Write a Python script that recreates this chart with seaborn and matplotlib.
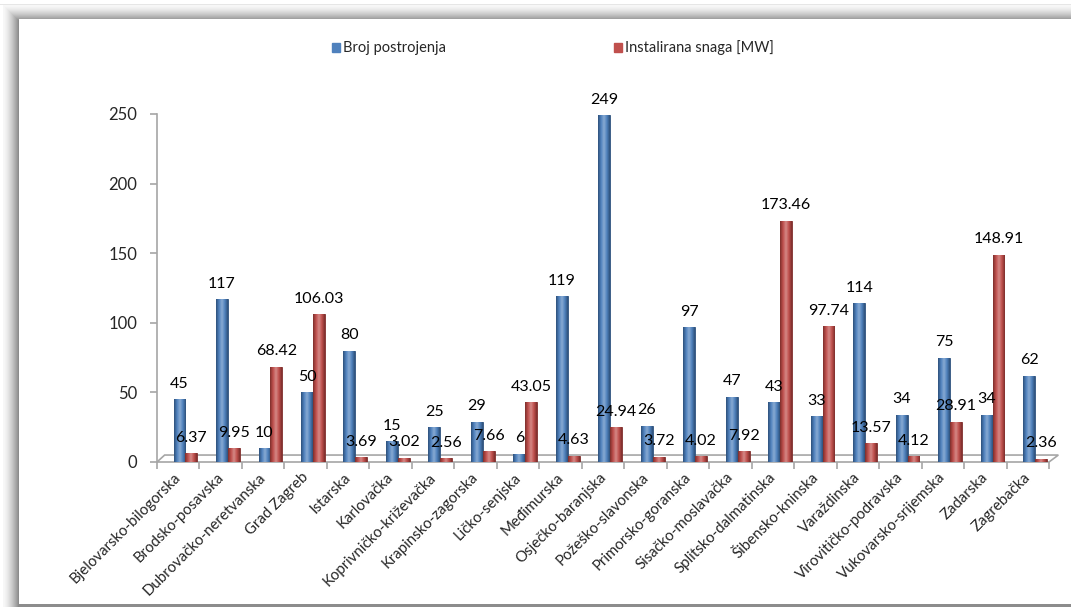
import numpy as np
import pandas as pd
import matplotlib
matplotlib.use("Agg")
import matplotlib.pyplot as plt
from matplotlib.patches import Rectangle, Polygon
from matplotlib.colors import LinearSegmentedColormap
import seaborn as sns

# data
zupanije = ["Bjelovarsko-bilogorska", "Brodsko-posavska", "Dubrovačko-neretvanska",
            "Grad Zagreb", "Istarska", "Karlovačka", "Koprivničko-križevačka",
            "Krapinsko-zagorska", "Ličko-senjska", "Međimurska", "Osječko-baranjska",
            "Požeško-slavonska", "Primorsko-goranska", "Sisačko-moslavačka",
            "Splitsko-dalmatinska", "Šibensko-kninska", "Varaždinska",
            "Virovitičko-podravska", "Vukovarsko-srijemska", "Zadarska", "Zagrebačka"]
broj_postrojenja = [45, 117, 10, 50, 80, 15, 25, 29, 6, 119, 249, 26, 97, 47, 43,
                    33, 114, 34, 75, 34, 62]
instalirana_snaga = [6.37, 9.95, 68.42, 106.03, 3.69, 3.02, 2.56, 7.66, 43.05, 4.63,
                     24.94, 3.72, 4.02, 7.92, 173.46, 97.74, 13.57, 4.12, 28.91,
                     148.91, 2.36]
serije = ["Broj postrojenja", "Instalirana snaga [MW]"]
boje = ["#4F81BD", "#C0504D"]

df = pd.DataFrame({
    "zupanija": zupanije * 2,
    "serija": [serije[0]] * len(zupanije) + [serije[1]] * len(zupanije),
    "vrijednost": broj_postrojenja + instalirana_snaga,
})

sns.set_theme(style="white")
plt.rcParams["font.family"] = ["Lato", "DejaVu Sans"]

W, H = 1071, 608
fig = plt.figure(figsize=(W / 100, H / 100), dpi=100)

# gray shadow frame around the chart
def px_rect(x0, y0, x1, y1, color, z):
    fig.patches.append(Rectangle((x0 / W, 1 - y1 / H), (x1 - x0) / W, (y1 - y0) / H,
                                 transform=fig.transFigure, facecolor=color,
                                 edgecolor="none", zorder=z))

px_rect(0, 4, W + 10, 5, "#e6e6e6", -10)
for t in range(16):
    g = 0.97 - 0.42 * (t / 15) ** 1.5
    px_rect(3 + t, 5 + t, W + 10, 607, (g, g, g), -9 + t * 0.01)
px_rect(19, 19, W + 10, 604, "white", -5)

ax = fig.add_axes([157 / W, 1 - 462 / H, (1049 - 157) / W, (462 - 114) / H])
ax.patch.set_alpha(0)

sns.barplot(data=df, x="zupanija", y="vrijednost", hue="serija", hue_order=serije,
            palette=boje, width=0.56, saturation=1, ax=ax, legend=False,
            edgecolor="none", zorder=3)

n = len(zupanije)
x0 = -0.67

# cylinder-like shading on each bar
grad = np.linspace(0, 1, 64)[None, :]
for cont, vals, col in zip(ax.containers, [broj_postrojenja, instalirana_snaga], boje):
    dark = sns.set_hls_values(col, l=0.33)
    light = sns.set_hls_values(col, l=0.68)
    cmap = LinearSegmentedColormap.from_list("cyl", [dark, col, light, col, dark])
    for p in cont:
        p.set_edgecolor(dark)
        p.set_linewidth(0.6)
        im = ax.imshow(grad, cmap=cmap, aspect="auto", zorder=3.5,
                       extent=(p.get_x(), p.get_x() + p.get_width(), 0, p.get_height()))
        im.set_clip_path(p)
    labs = [f"{v:g}" if isinstance(v, int) else f"{v:.2f}" for v in vals]
    ax.bar_label(cont, labels=labs, padding=6, fontsize=11.5, color="black",
                 clip_on=False, zorder=6)

ax.set_xlim(x0, x0 + n)
ax.set_ylim(0, 250)

# 3D style floor
floor = Polygon([(x0, 0), (x0 + n, 0), (x0 + n + 0.22, 5), (x0 + 0.18, 5)],
                closed=True, facecolor="none", edgecolor="#a6a6a6", lw=1.2,
                clip_on=False, zorder=2)
ax.add_patch(floor)

for s in ["top", "right", "bottom"]:
    ax.spines[s].set_visible(False)
ax.spines["left"].set_color("#a6a6a6")
ax.spines["left"].set_linewidth(1.2)

ax.set_yticks([0, 50, 100, 150, 200, 250])
ax.tick_params(axis="y", length=5, width=1.2, color="#a6a6a6", labelsize=12,
               pad=9, left=True)
ax.set_xticks(np.arange(n) - 0.27, zupanije)
ax.set_xticks(np.arange(n + 1) + x0, minor=True)
ax.tick_params(axis="x", which="major", length=0, pad=6)
ax.tick_params(axis="x", which="minor", length=5, width=1.2, color="#a6a6a6",
               bottom=True)
for lab in ax.get_xticklabels():
    lab.set_rotation(45)
    lab.set_ha("right")
    lab.set_va("top")
    lab.set_rotation_mode("anchor")
    lab.set_fontsize(10.8)
ax.set_xlabel("")
ax.set_ylabel("")

handles = [Rectangle((0, 0), 1, 1, color=c) for c in boje]
fig.legend(handles, serije, loc="center", bbox_to_anchor=(553 / W, 1 - 48 / H),
           ncol=2, frameon=False, fontsize=10.5, handlelength=0.55, handleheight=0.55,
           handletextpad=0.2, columnspacing=11.5)

fig.savefig("out.png", dpi=100)
